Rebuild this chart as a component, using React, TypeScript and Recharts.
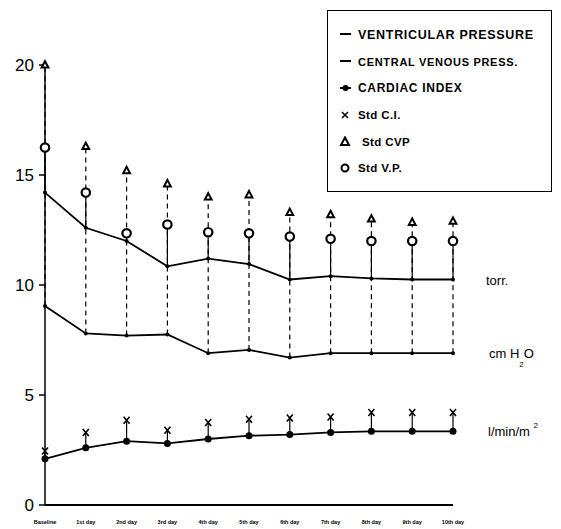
import React from 'react';
import { LineChart, Line, XAxis, YAxis, ErrorBar, Legend, LabelList } from 'recharts';

const days = ['Baseline', '1st day', '2nd day', '3rd day', '4th day', '5th day', '6th day', '7th day', '8th day', '9th day', '10th day'];
const ventricularPressure = [14.2, 12.6, 12.0, 10.85, 11.2, 10.95, 10.25, 10.4, 10.3, 10.25, 10.25];
const centralVenousPressure = [9.05, 7.8, 7.7, 7.75, 6.9, 7.05, 6.7, 6.9, 6.9, 6.9, 6.9];
const cardiacIndex = [2.1, 2.6, 2.9, 2.8, 3.0, 3.15, 3.2, 3.3, 3.35, 3.35, 3.35];
const stdCI = [2.45, 3.3, 3.85, 3.4, 3.75, 3.9, 3.95, 4.0, 4.2, 4.2, 4.2];
const stdCVP = [20, 16.3, 15.2, 14.6, 14.0, 14.1, 13.3, 13.2, 13.0, 12.85, 12.9];
const stdVP = [16.25, 14.2, 12.35, 12.75, 12.4, 12.35, 12.2, 12.1, 12.0, 12.0, 12.0];
const yTicks = [0, 5, 10, 15, 20];
const legendLabels = ['VENTRICULAR PRESSURE', 'CENTRAL VENOUS PRESS.', 'CARDIAC INDEX', 'Std C.I.', 'Std CVP', 'Std V.P.'];

const last = days.length - 1;
const data = days.map((day, i) => ({
  day,
  vp: ventricularPressure[i],
  cvp: centralVenousPressure[i],
  ci: cardiacIndex[i],
  sdVP: stdVP[i],
  sdCVP: stdCVP[i],
  sdCI: stdCI[i],
  vpErr: [0, stdVP[i] - ventricularPressure[i]],
  cvpErr: [0, stdCVP[i] - centralVenousPressure[i]],
  ciErr: [0, stdCI[i] - cardiacIndex[i]],
  vpUnit: i === last ? 'torr.' : null,
  cvpUnit: i === last ? 'cm H2O' : null,
  ciUnit: i === last ? 'l/min/m2' : null,
}));

const FONT = '"Liberation Sans", Arial, sans-serif';

const SmallDot = (p: any) => <circle key={`s${p.index}`} cx={p.cx} cy={p.cy} r={2} fill="#000" />;
const CiDot = (p: any) => <circle key={`c${p.index}`} cx={p.cx} cy={p.cy} r={3.5} fill="#000" />;
const Cross = (p: any) => (
  <path key={`x${p.index}`} d={`M${p.cx - 3},${p.cy - 3.5}L${p.cx + 3},${p.cy + 3.5}M${p.cx + 3},${p.cy - 3.5}L${p.cx - 3},${p.cy + 3.5}`} stroke="#000" strokeWidth={1.6} />
);
const Tri = (p: any) => (
  <path key={`t${p.index}`} d={`M${p.cx},${p.cy - 3.8}L${p.cx + 3.4},${p.cy + 2.6}L${p.cx - 3.4},${p.cy + 2.6}Z`} stroke="#000" strokeWidth={2} fill="#fff" />
);
const Ring = (p: any) => <circle key={`r${p.index}`} cx={p.cx} cy={p.cy} r={4.2} stroke="#000" strokeWidth={2.2} fill="#fff" />;

const unitLabel = (p: any) => {
  if (p.value == null) return null;
  const x = p.x + 33;
  const y = p.y + 5;
  if (p.value === 'cm H2O') {
    return (
      <text x={x + 3} y={y} fontSize={13} fontFamily={FONT} fill="#000">
        cm H<tspan fontSize={8} dy={9}>2</tspan><tspan dy={-9}>O</tspan>
      </text>
    );
  }
  if (p.value === 'l/min/m2') {
    return (
      <text x={x + 2} y={y} fontSize={13} fontFamily={FONT} fill="#000">
        l/min/m <tspan fontSize={8} dy={-8}>2</tspan>
      </text>
    );
  }
  return <text x={x} y={y} fontSize={13} fontFamily={FONT} fill="#000">{p.value}</text>;
};

const legendSymbol = (i: number) => {
  switch (i) {
    case 0:
    case 1:
      return <line x1={1} y1={5} x2={12} y2={5} stroke="#000" strokeWidth={2} />;
    case 2:
      return (
        <g>
          <line x1={1} y1={6} x2={12} y2={6} stroke="#000" strokeWidth={2} />
          <circle cx={6.5} cy={6} r={3} fill="#000" />
        </g>
      );
    case 3:
      return <path d="M3,3L9,9M9,3L3,9" stroke="#000" strokeWidth={1.5} />;
    case 4:
      return <path d="M6,1.5L10,9L2,9Z" stroke="#000" strokeWidth={2} fill="#fff" />;
    default:
      return <circle cx={6} cy={6} r={3.5} stroke="#000" strokeWidth={2} fill="#fff" />;
  }
};

const legendSizes = [12.5, 11, 12, 11.5, 11.5, 11.5];

const LegendBox = () => (
  <div style={{ border: '1.5px solid #000', width: 225, height: 182, boxSizing: 'border-box', padding: '11px 0 0 11px', background: '#fff' }}>
    {legendLabels.map((label, i) => (
      <div key={label} style={{ display: 'flex', alignItems: 'center', height: 26.6, fontFamily: FONT, fontWeight: 'bold', fontSize: legendSizes[i], letterSpacing: i < 3 ? 0.7 : 0.4, color: '#000' }}>
        <svg width={14} height={12} style={{ marginRight: i === 4 ? 9 : 5 }}>{legendSymbol(i)}</svg>
        <span>{label}</span>
      </div>
    ))}
  </div>
);

export default function App() {
  return (
    <div style={{ position: 'absolute', left: 0, top: 0, background: '#fff' }}>
      <LineChart width={561} height={529} data={data} margin={{ top: 65, right: 108, left: 0, bottom: 0 }}>
        <XAxis
          dataKey="day"
          interval={0}
          height={24}
          tickLine={false}
          tickSize={0}
          tickMargin={15}
          axisLine={{ stroke: '#000', strokeWidth: 2 }}
          tick={{ fontSize: 5.5, fontWeight: 'bold', fill: '#000', fontFamily: FONT }}
        />
        <YAxis
          domain={[0, 20]}
          ticks={yTicks}
          width={45}
          tickSize={6}
          tickMargin={5}
          axisLine={{ stroke: '#000', strokeWidth: 1.5 }}
          tickLine={{ stroke: '#000', strokeWidth: 1.5 }}
          tick={{ fontSize: 17, fill: '#000', fontFamily: FONT }}
        />
        <Legend
          layout="vertical"
          align="center"
          verticalAlign="middle"
          content={<LegendBox />}
          wrapperStyle={{ position: 'absolute', left: 327, top: 10, width: 225, height: 182 }}
        />
        <Line dataKey="cvp" stroke="#000" strokeWidth={1.8} dot={SmallDot} isAnimationActive={false}>
          <ErrorBar dataKey="cvpErr" direction="y" width={0} stroke="#000" strokeWidth={1.2} strokeDasharray="5 4" />
          <LabelList dataKey="cvpUnit" content={unitLabel} />
        </Line>
        <Line dataKey="vp" stroke="#000" strokeWidth={1.8} dot={SmallDot} isAnimationActive={false}>
          <ErrorBar dataKey="vpErr" direction="y" width={0} stroke="#000" strokeWidth={1.2} />
          <LabelList dataKey="vpUnit" content={unitLabel} />
        </Line>
        <Line dataKey="ci" stroke="#000" strokeWidth={1.8} dot={CiDot} isAnimationActive={false}>
          <ErrorBar dataKey="ciErr" direction="y" width={0} stroke="#000" strokeWidth={1.2} />
          <LabelList dataKey="ciUnit" content={unitLabel} />
        </Line>
        <Line dataKey="sdCI" stroke="none" dot={Cross} activeDot={false} isAnimationActive={false} />
        <Line dataKey="sdCVP" stroke="none" dot={Tri} activeDot={false} isAnimationActive={false} />
        <Line dataKey="sdVP" stroke="none" dot={Ring} activeDot={false} isAnimationActive={false} />
      </LineChart>
    </div>
  );
}
